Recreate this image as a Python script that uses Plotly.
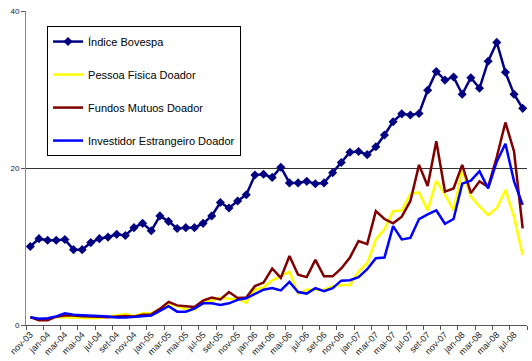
import plotly.graph_objects as go

months = ["jan", "fev", "mar", "abr", "mai", "jun", "jul", "ago", "set", "out", "nov", "dez"]
categories = []
for y, m0, m1 in [(2003, 10, 12), (2004, 0, 12), (2005, 0, 12), (2006, 0, 12), (2007, 0, 12), (2008, 0, 8)]:
    for m in range(m0, m1):
        categories.append(f"{months[m]}-{str(y)[2:]}")

bovespa = [10.0, 11.0, 10.8, 10.8, 10.9, 9.6, 9.6, 10.5, 11.0, 11.2, 11.55, 11.4, 12.4, 12.95, 12.0,
           13.9, 13.2, 12.3, 12.4, 12.4, 12.95, 13.9, 15.6, 14.9, 15.8, 16.6, 19.1, 19.2, 18.8, 20.1,
           18.1, 18.1, 18.3, 18.0, 18.1, 19.4, 20.7, 22.0, 22.1, 21.7, 22.7, 24.2, 25.9, 26.9, 26.75,
           26.95, 29.9, 32.3, 31.2, 31.6, 29.4, 31.5, 30.15, 33.6, 36.0, 32.2, 29.4, 27.6]
pessoa_fisica = [1.0, 0.7, 0.8, 1.0, 1.0, 0.95, 0.9, 0.85, 0.9, 1.05, 1.25, 1.4, 1.15, 1.5, 1.5,
                 2.0, 2.7, 2.4, 2.0, 1.9, 2.9, 3.1, 3.5, 3.35, 3.3, 2.85, 4.5, 4.8, 5.7, 6.2,
                 6.8, 4.0, 4.5, 4.5, 4.5, 4.9, 5.1, 5.1, 6.8, 7.9, 10.9, 12.2, 14.5, 14.6, 16.7,
                 16.9, 14.6, 18.4, 16.6, 14.6, 19.7, 16.4, 15.1, 14.0, 14.9, 17.2, 13.8, 8.9]
fundos_mutuos = [1.0, 0.6, 0.6, 1.06, 1.2, 1.2, 1.1, 1.1, 1.05, 0.98, 1.06, 1.15, 1.06, 1.3, 1.35,
                 2.05, 2.95, 2.5, 2.4, 2.3, 3.1, 3.5, 3.25, 4.2, 3.45, 3.5, 4.95, 5.4, 7.2, 6.0,
                 8.8, 6.4, 6.1, 8.3, 6.2, 6.2, 7.2, 8.6, 10.7, 10.3, 14.5, 13.5, 12.95, 13.8, 15.8,
                 20.4, 17.7, 23.4, 17.0, 17.4, 20.4, 16.8, 18.3, 17.6, 21.4, 25.8, 22.1, 12.3]
investidor_estrangeiro = [1.0, 0.8, 0.85, 1.1, 1.5, 1.3, 1.25, 1.23, 1.15, 1.08, 0.95, 0.95, 1.06, 1.15, 1.2,
                          1.8, 2.4, 1.7, 1.7, 2.1, 2.76, 2.76, 2.55, 2.76, 3.2, 3.4, 4.0, 4.5, 4.7, 4.4,
                          5.5, 4.2, 4.0, 4.7, 4.3, 4.7, 5.65, 5.7, 6.1, 7.1, 8.5, 8.6, 12.6, 10.9, 11.1,
                          13.5, 14.1, 14.6, 12.9, 13.5, 18.0, 18.4, 19.6, 17.4, 20.8, 23.1, 18.3, 15.3]

y_ticks = [0, 20, 40]

idx = list(range(len(categories)))
font = "Liberation Sans, Arial, sans-serif"

fig = go.Figure()
fig.add_trace(go.Scatter(x=idx, y=bovespa, name="Índice Bovespa", mode="lines+markers",
                         line=dict(color="#000080", width=2.5),
                         marker=dict(symbol="diamond", size=7, color="#000080"),
                         legendgroup="a"))
fig.add_trace(go.Scatter(x=idx, y=pessoa_fisica, name="Pessoa Fisica Doador", mode="lines",
                         line=dict(color="#FFFF00", width=2.5), legendgroup="b"))
fig.add_trace(go.Scatter(x=idx, y=fundos_mutuos, name="Fundos Mutuos Doador", mode="lines",
                         line=dict(color="#800000", width=2.5), legendgroup="c"))
fig.add_trace(go.Scatter(x=idx, y=investidor_estrangeiro, name="Investidor Estrangeiro Doador", mode="lines",
                         line=dict(color="#0000FF", width=2.5), legendgroup="d"))
# invisible trace to carry the boundary tick marks axis
fig.add_trace(go.Scatter(x=[idx[0], idx[-1]], y=[0, 0], xaxis="x2", mode="lines",
                         line=dict(width=0), showlegend=False, hoverinfo="skip"))

xr = [-0.5, len(categories) - 0.5]
fig.update_layout(
    width=532, height=361,
    margin=dict(l=26, r=5, t=11, b=36),
    paper_bgcolor="white", plot_bgcolor="white",
    font=dict(family=font, color="black"),
    showlegend=True,
    legend=dict(x=0.042, y=0.952, xanchor="left", yanchor="top",
                bordercolor="black", borderwidth=1, bgcolor="white",
                font=dict(size=11, family=font), tracegroupgap=14,
                itemwidth=30),
    xaxis=dict(range=xr, tickmode="array", tickvals=idx[::2], ticktext=categories[::2],
               tickangle=-45, tickfont=dict(size=9, color="#222"), ticks="",
               showgrid=False, zeroline=False, showline=True, linecolor="#555", linewidth=1),
    xaxis2=dict(range=xr, overlaying="x", side="bottom", tickmode="array",
                tickvals=[i - 0.5 for i in idx[::2]] + [xr[1]], ticks="outside", ticklen=4,
                tickcolor="#555", showticklabels=False, showgrid=False, zeroline=False,
                showline=False),
    yaxis=dict(range=[0, 40], tickmode="array", tickvals=y_ticks, tickfont=dict(size=8, color="#222"),
               showgrid=True, gridcolor="#333", gridwidth=1, zeroline=False,
               showline=True, linecolor="#888", linewidth=1, ticks="outside", ticklen=4,
               tickcolor="#555"),
)

fig.write_html("out.html")
